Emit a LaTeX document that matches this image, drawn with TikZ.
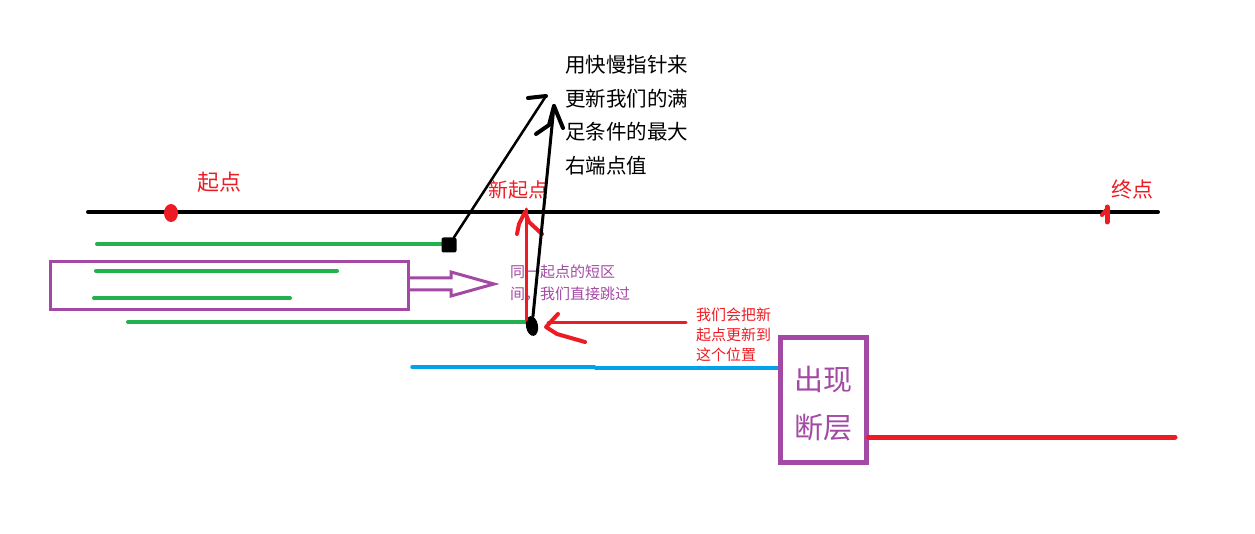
\documentclass[tikz,border=0pt]{standalone}
\usepackage{fontspec}
\usetikzlibrary{shapes.geometric}
\newfontfamily\cjk{Noto Sans CJK SC}
\definecolor{pgreen}{HTML}{22B14C}
\definecolor{pred}{HTML}{ED1C24}
\definecolor{ppurple}{HTML}{A349A4}
\definecolor{pblue}{HTML}{00A2E8}
\tikzset{
  stroke/.style={line width=#1, line cap=round, line join=round},
  gline/.style={draw=pgreen, stroke=4pt},
  lbl/.style={inner sep=0pt, font=\cjk, align=left},
}
\begin{document}
\begin{tikzpicture}[x=1pt,y=-1pt]
\useasboundingbox (0,0) rectangle (1255,534);
% main axis
\coordinate (axL) at (88,212);
\coordinate (axR) at (1158,212);
\draw[stroke=4pt] (axL) -- (axR);
% start / end markers
\node[fill=pred, ellipse, minimum width=14pt, minimum height=18pt, inner sep=0pt] (startdot) at (171,213) {};
\node[lbl, text=pred, font=\cjk\fontsize{22}{24}\selectfont] (startlbl) at (219,182) {起点};
\draw[pred, stroke=5pt] (1107,207) -- (1107,222);
\draw[pred, stroke=4pt] (1102,215) -- (1107,209);
\node[lbl, text=pred, font=\cjk\fontsize{21}{23}\selectfont] (endlbl) at (1132,190) {终点};
\node[lbl, text=pred, font=\cjk\fontsize{20}{22}\selectfont] (newlbl) at (518,190) {新起点};
% green intervals
\coordinate (g1a) at (97,244);  \coordinate (g1b) at (448,244);
\coordinate (g2a) at (96,271);  \coordinate (g2b) at (337,271);
\coordinate (g3a) at (94,298);  \coordinate (g3b) at (290,298);
\coordinate (g4a) at (128,322); \coordinate (g4b) at (530,322);
\draw[gline] (g1a) -- (g1b);
\draw[gline] (g2a) -- (g2b);
\draw[gline] (g3a) -- (g3b);
\draw[gline] (g4a) -- (g4b);
% black endpoints
\node[fill=black, minimum size=15pt, inner sep=0pt, rounded corners=2pt] (sq1) at (449,245) {};
\node[fill=black, ellipse, minimum width=12pt, minimum height=20pt, inner sep=0pt, rotate=10] (sq2) at (532,326) {};
% purple box with hollow arrow
\node[draw=ppurple, line width=3pt, minimum width=358pt, minimum height=48pt, inner sep=0pt] (pbox) at (229,286) {};
\draw[ppurple, line width=3pt, line join=miter]
  (408,278) -- (451,278) -- (451,272) -- (494,284) -- (451,296) -- (451,290) -- (408,290);
\node[lbl, text=ppurple, font=\cjk\fontsize{15}{22}\selectfont, anchor=north west] (skiptxt) at (510,265) {同一起点的短区\\间，我们直接跳过};
% red vertical arrow (new start)
\coordinate (rv1) at (526,320);
\coordinate (rv2) at (526,209);
\draw[pred, stroke=3pt] (rv1) -- (rv2);
\draw[pred, stroke=4pt] (517,234) -- (519,224) -- (525,212) -- (529,222) -- (542,234);
% black pointer lines
\coordinate (tip1) at (546,96);
\draw[stroke=2.5pt] (sq1) -- (tip1);
\draw[stroke=4pt] (528,98) -- (tip1);
\coordinate (tip2) at (554,106);
\draw[stroke=3pt] (sq2) -- (tip2);
\draw[stroke=4pt] (tip2) -- (563,128);
\draw[stroke=4pt] (536,134) -- (549,125) -- (tip2);
% black note
\node[lbl, font=\cjk\fontsize{20.5}{33.7}\selectfont, anchor=north west] (note) at (565,55) {用快慢指针来\\更新我们的满\\足条件的最大\\右端点值};
% red horizontal arrow
\coordinate (rh1) at (686,323);
\coordinate (rh2) at (548,323);
\draw[pred, stroke=3pt] (rh1) -- (rh2);
\draw[pred, stroke=4pt] (558,314) -- (546,327) -- (557,334) -- (585,342);
\node[lbl, text=pred, font=\cjk\fontsize{15}{20}\selectfont, anchor=north west] (redtxt) at (696,308) {我们会把新\\起点更新到\\这个位置};
% blue line
\coordinate (b1) at (412,367);
\coordinate (b2) at (595,368);
\coordinate (b3) at (778,368);
\draw[pblue, stroke=3.5pt] (b1) -- (595,367) -- (b2) -- (b3);
% fault box
\node[draw=ppurple, line width=5pt, minimum width=86pt, minimum height=124pt, inner sep=0pt] (fault) at (823,400) {};
\node[lbl, text=ppurple, align=center, font=\cjk\fontsize{29}{48}\selectfont] (faulttxt) at (823,404) {出现\\断层};
\coordinate (rend) at (1175,437);
\draw[pred, stroke=5pt] (fault.east |- rend) -- (rend);
\end{tikzpicture}
\end{document}
